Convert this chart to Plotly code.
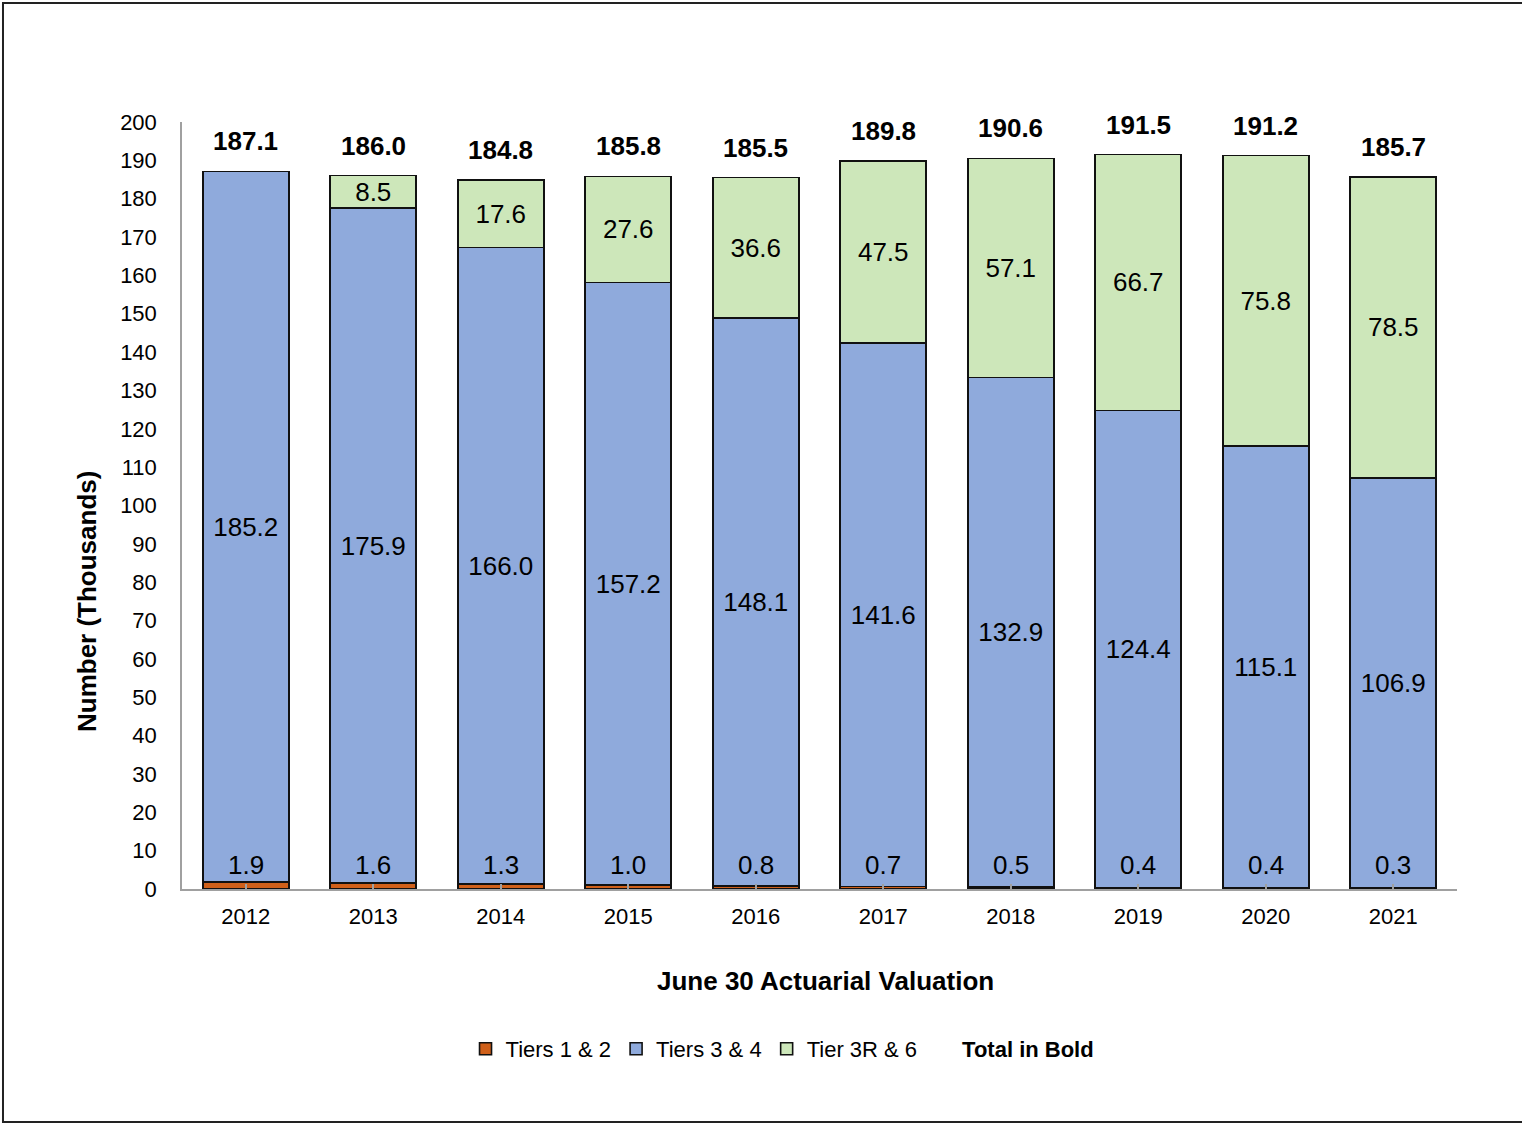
import plotly.graph_objects as go

# Valuation years (June 30)
years = ["2012", "2013", "2014", "2015", "2016", "2017", "2018", "2019", "2020", "2021"]

# Active members by tier, in thousands
tiers_1_2 = [1.9, 1.6, 1.3, 1.0, 0.8, 0.7, 0.5, 0.4, 0.4, 0.3]
tiers_3_4 = [185.2, 175.9, 166.0, 157.2, 148.1, 141.6, 132.9, 124.4, 115.1, 106.9]
tier_3r_6 = [0.0, 8.5, 17.6, 27.6, 36.6, 47.5, 57.1, 66.7, 75.8, 78.5]
totals = [187.1, 186.0, 184.8, 185.8, 185.5, 189.8, 190.6, 191.5, 191.2, 185.7]

y_ticks = list(range(0, 201, 10))

FONT = "Liberation Sans, Arial, sans-serif"
ORANGE = "#D0601A"
BLUE = "#8FAADC"
GREEN = "#CDE7BA"
OUTLINE = dict(color="#111111", width=1.6)

fig = go.Figure()

fig.add_trace(go.Bar(
    x=years, y=tiers_1_2, name="Tiers 1 & 2",
    marker=dict(color=ORANGE, line=OUTLINE),
    hoverinfo="skip",
))
fig.add_trace(go.Bar(
    x=years, y=tiers_3_4, name="Tiers 3 & 4",
    marker=dict(color=BLUE, line=OUTLINE),
    text=[f"{v:.1f}" for v in tiers_3_4],
    textposition="inside", insidetextanchor="middle",
    textfont=dict(family=FONT, size=26, color="#000000"),
    textangle=0,
))
fig.add_trace(go.Bar(
    x=years, y=tier_3r_6, name="Tier 3R & 6",
    marker=dict(color=GREEN, line=OUTLINE),
    text=[f"{v:.1f}" if v > 0 else "" for v in tier_3r_6],
    textposition="inside", insidetextanchor="middle",
    textfont=dict(family=FONT, size=26, color="#000000"),
    textangle=0,
))
# Legend-only entry explaining the bold totals
fig.add_trace(go.Scatter(
    x=[None], y=[None], mode="markers", name="<b>Total in Bold</b>",
    marker=dict(color="rgba(0,0,0,0)", size=1),
))

annotations = []
# Tier 1 & 2 values written just above the base of each bar
for i, v in enumerate(tiers_1_2):
    annotations.append(dict(
        x=i, y=6.2, xref="x", yref="y", text=f"{v:.1f}", showarrow=False,
        font=dict(family=FONT, size=26, color="#000000"), yanchor="middle",
    ))
# Totals in bold above each stack
for i, t in enumerate(totals):
    annotations.append(dict(
        x=i, y=t, xref="x", yref="y", text=f"<b>{t:.1f}</b>", showarrow=False,
        font=dict(family=FONT, size=26, color="#000000"),
        yanchor="bottom", yshift=13,
    ))
# Y axis title
annotations.append(dict(
    x=-0.074, y=0.375, xref="paper", yref="paper",
    text="<b>Number (Thousands)</b>", textangle=-90, showarrow=False,
    font=dict(family=FONT, size=26, color="#000000"),
    xanchor="center", yanchor="middle",
))
# X axis title
annotations.append(dict(
    x=0.505, y=-0.1204, xref="paper", yref="paper",
    text="<b>June 30 Actuarial Valuation</b>", showarrow=False,
    font=dict(family=FONT, size=26, color="#000000"),
    xanchor="center", yanchor="middle",
))

fig.update_layout(
    width=1522, height=1124,
    margin=dict(l=182, r=65, t=122, b=235, pad=0),
    paper_bgcolor="white", plot_bgcolor="white",
    barmode="stack", bargap=0.325,
    font=dict(family=FONT, color="#000000"),
    showlegend=True,
    legend=dict(
        orientation="h", x=0.471, xanchor="center", y=-0.2086, yanchor="middle",
        font=dict(family=FONT, size=22, color="#000000"),
        itemwidth=30, traceorder="normal", bgcolor="rgba(0,0,0,0)",
    ),
    uniformtext=dict(minsize=26, mode="show"),
    annotations=annotations,
    shapes=[dict(
        type="rect", xref="paper", yref="paper",
        x0=-0.1404, x1=1.06, y0=-0.3038, y1=1.1551,
        line=dict(color="#222222", width=2), fillcolor="rgba(0,0,0,0)", layer="below",
    )],
)

fig.update_xaxes(
    type="category", range=[-0.5, 9.5],
    showline=True, linecolor="#A0A0A0", linewidth=1.5,
    ticks="inside", ticklen=5, tickcolor="#A0A0A0", tickwidth=1.5,
    tickfont=dict(family=FONT, size=22, color="#000000"),
    ticklabelstandoff=7, showgrid=False, zeroline=False,
)
fig.update_yaxes(
    range=[0, 200], tickvals=y_ticks,
    showline=True, linecolor="#A0A0A0", linewidth=1.5,
    ticks="", tickfont=dict(family=FONT, size=22, color="#000000"),
    ticklabelstandoff=19, showgrid=False, zeroline=False,
)

fig.write_html("out.html")
